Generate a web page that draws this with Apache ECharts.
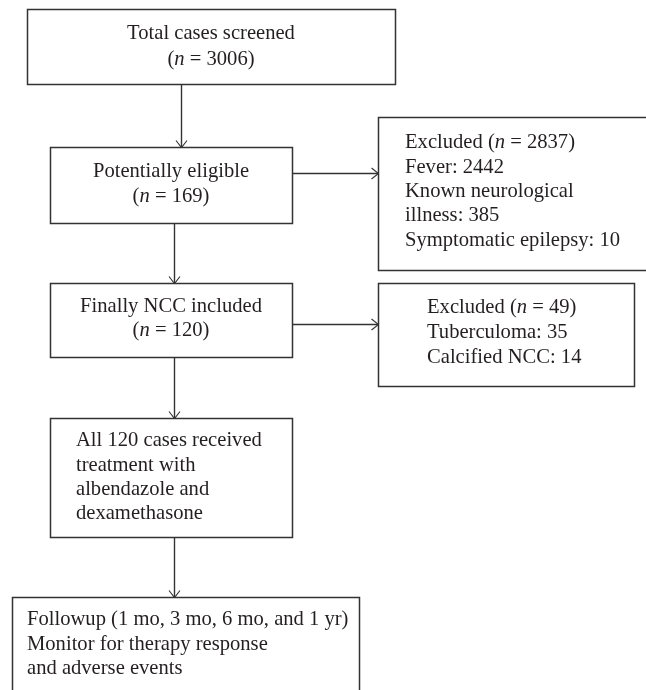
<!DOCTYPE html>
<html>
<head>
<meta charset="utf-8">
<script src="https://cdn.jsdelivr.net/npm/echarts@6/dist/echarts.min.js"></script>
<style>
  html, body { margin: 0; padding: 0; background: #fff; }
  #chart { width: 646px; height: 690px; }
</style>
</head>
<body>
<div id="chart"></div>
<script>
// box texts, one line per entry ({i|n} = italic n)
const nodeScreened = ['Total cases screened', '({i|n} = 3006)']
const nodeEligible = ['Potentially eligible', '({i|n} = 169)']
const nodeExcluded1 = ['Excluded ({i|n} = 2837)', 'Fever: 2442', 'Known neurological', 'illness: 385', 'Symptomatic epilepsy: 10']
const nodeIncluded = ['Finally NCC included', '({i|n} = 120)']
const nodeExcluded2 = ['Excluded ({i|n} = 49)', 'Tuberculoma: 35', 'Calcified NCC: 14']
const nodeTreated = ['All 120 cases received', 'treatment with', 'albendazole and', 'dexamethasone']
const nodeFollowup = ['Followup (1 mo, 3 mo, 6 mo, and 1 yr)', 'Monitor for therapy response', 'and adverse events']

const nodes = [nodeScreened, nodeEligible, nodeExcluded1, nodeIncluded, nodeExcluded2, nodeTreated, nodeFollowup]

// arrows: [from, to]
const edges = [[0, 1], [1, 2], [1, 3], [3, 4], [3, 5], [5, 6]]

// layout in page pixels
const boxes = [
  [27, 9, 395, 84],
  [50, 147, 292, 223],
  [378, 117, 652, 270],
  [50, 283, 292, 357],
  [378, 283, 634, 386],
  [50, 418, 292, 537],
  [12, 597, 359, 700]
]
// [align, x, first line y, line gap]
const textPos = [
  ['center', 211, 34, 26],
  ['center', 171, 172, 25],
  ['left', 405, 143, 24.3],
  ['center', 171, 307, 23.5],
  ['left', 427, 308, 25],
  ['left', 76, 441, 24.3],
  ['left', 27, 620, 24.5]
]
// x of vertical arrows, y of horizontal arrows
const edgeAnchor = [181, 173, 174, 324, 174, 174]

const lineColor = '#333'
const textColor = '#231f20'
const fontFamily = '"Liberation Serif", "Times New Roman", serif'
const fontSize = 20.6

const chart = echarts.init(document.getElementById('chart'))

const renderBox = (params, api) => {
  const i = api.value(0)
  const b = boxes[i]
  const p0 = api.coord([b[0], b[1]])
  const p1 = api.coord([b[2], b[3]])
  const children = [{
    type: 'rect',
    shape: { x: p0[0] + 0.5, y: p0[1] + 0.5, width: p1[0] - p0[0], height: p1[1] - p0[1] },
    style: { fill: '#fff', stroke: lineColor, lineWidth: 1.5 }
  }]
  const t = textPos[i]
  nodes[i].forEach((line, k) => {
    const pt = api.coord([t[1], t[2] + k * t[3]])
    children.push({
      type: 'text',
      style: {
        text: line,
        x: pt[0],
        y: pt[1],
        align: t[0],
        verticalAlign: 'middle',
        fontFamily: fontFamily,
        fontSize: fontSize,
        fill: textColor,
        rich: {
          i: { fontStyle: 'italic', fontFamily: fontFamily, fontSize: fontSize, fill: textColor }
        }
      }
    })
  })
  return { type: 'group', children }
}

const renderEdge = (params, api) => {
  const a = boxes[api.value(0)]
  const b = boxes[api.value(1)]
  const c = edgeAnchor[params.dataIndex]
  let s, e, head
  if (b[0] >= a[2]) {
    // horizontal, left to right
    s = api.coord([a[2], c])
    e = api.coord([b[0], c])
    head = [[e[0] - 7, e[1] - 5.5], [e[0], e[1]], [e[0] - 7, e[1] + 5.5]]
  } else {
    // vertical, top to bottom
    s = api.coord([c, a[3]])
    e = api.coord([c, b[1]])
    head = [[e[0] - 5.5, e[1] - 7], [e[0], e[1]], [e[0] + 5.5, e[1] - 7]]
  }
  const off = (p) => [p[0] + 0.5, p[1] + 0.5]
  return {
    type: 'group',
    children: [
      { type: 'polyline', shape: { points: [off(s), off(e)] }, style: { stroke: lineColor, lineWidth: 1.4, fill: null } },
      { type: 'polyline', shape: { points: head.map(off) }, style: { stroke: lineColor, lineWidth: 1.1, fill: null } }
    ]
  }
}

const option = {
  animation: false,
  backgroundColor: '#fff',
  grid: { left: 0, right: 0, top: 0, bottom: 0 },
  xAxis: { type: 'value', min: 0, max: 646, show: false },
  yAxis: { type: 'value', min: 0, max: 690, inverse: true, show: false },
  series: [
    {
      type: 'custom',
      name: 'arrows',
      renderItem: renderEdge,
      clip: false,
      data: edges
    },
    {
      type: 'custom',
      name: 'boxes',
      renderItem: renderBox,
      clip: false,
      data: nodes.map((_, i) => [i])
    }
  ]
}

chart.setOption(option)
</script>
</body>
</html>
